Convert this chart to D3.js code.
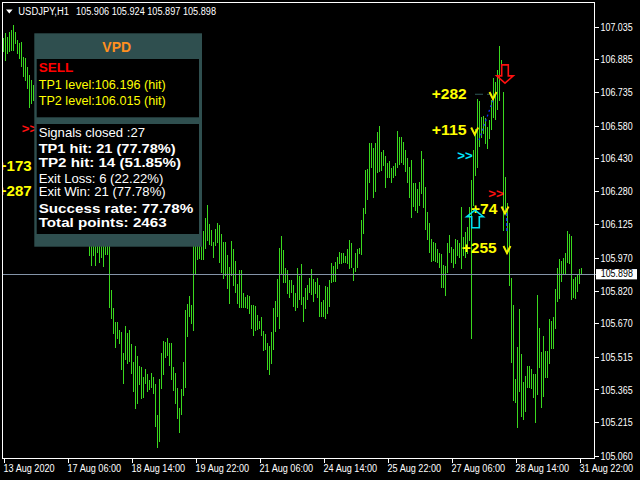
<!DOCTYPE html>
<html><head><meta charset="utf-8">
<script src="https://cdn.jsdelivr.net/npm/d3@7"></script>
<style>body{margin:0;background:#000;overflow:hidden}svg{display:block}</style>
</head><body><svg id="c" width="640" height="480"></svg>
<script>
// ---------------- DATA ----------------
const symbolTitle = "USDJPY,H1";
const headerOHLC = ["105.906", "105.924", "105.897", "105.898"];
const currentPrice = 105.898;

const highs = [
106.983,107.006,106.988,107.011,107.020,107.043,107.011,106.974,106.960,106.965,
106.896,106.891,106.850,106.813,106.790,106.767,106.744,106.675,106.642,106.629,
106.606,106.537,106.513,106.467,106.444,106.398,106.375,106.421,106.398,106.375,
106.306,106.283,106.260,106.237,106.191,106.214,106.168,106.145,106.122,106.136,
106.108,106.099,106.090,106.072,106.053,106.062,106.044,106.072,106.053,106.053,
106.062,106.072,106.062,106.053,105.823,105.740,105.676,105.676,105.639,105.630,
105.533,105.657,105.625,105.639,105.574,105.491,105.565,105.519,105.473,105.468,
105.422,105.459,105.436,105.409,105.441,105.422,105.390,105.247,105.413,105.533,
105.588,105.583,105.602,105.579,105.579,105.468,105.441,105.372,105.280,105.367,
105.491,105.731,105.758,105.795,105.754,106.053,106.062,106.062,106.053,106.062,
106.095,106.154,106.214,106.127,106.099,106.044,106.104,106.131,106.122,106.081,
106.044,106.044,105.984,105.929,106.048,106.012,105.956,105.851,105.915,105.915,
105.809,105.791,105.800,105.795,105.754,105.754,105.749,105.708,105.680,105.699,
105.634,105.620,105.579,105.565,105.630,105.740,105.772,105.874,106.016,106.072,
106.007,105.924,105.915,105.869,105.869,105.846,105.809,105.924,105.887,105.943,
105.791,105.832,105.846,105.878,105.920,105.874,105.860,105.878,105.846,105.768,
105.777,105.841,105.837,105.869,105.947,105.933,105.952,105.975,105.998,105.993,
105.993,105.979,106.012,106.053,106.039,105.924,105.993,106.012,106.016,106.145,
106.200,106.375,106.380,106.500,106.500,106.477,106.500,106.550,106.578,106.458,
106.467,106.440,106.408,106.417,106.385,106.394,106.408,106.555,106.527,106.527,
106.504,106.467,106.431,106.389,106.421,106.316,106.316,106.288,106.320,106.463,
106.426,106.297,106.182,106.131,106.058,106.044,106.039,106.012,105.993,105.989,
105.938,105.933,106.039,106.076,106.021,106.012,106.058,106.053,106.039,106.205,
106.067,106.090,106.113,106.205,106.329,106.467,106.564,106.702,106.693,106.619,
106.624,106.615,106.573,106.606,106.698,106.799,106.780,106.836,106.946,106.882,
106.734,106.343,106.223,106.131,105.878,105.754,105.413,105.560,105.735,105.528,
105.399,105.427,105.473,105.473,105.459,105.436,105.436,105.800,105.648,105.537,
105.611,105.542,105.542,105.689,105.680,105.699,105.827,105.924,105.966,105.956,
105.970,105.993,106.095,106.081,106.072,105.874,105.883,105.892,105.920,105.924
];
const lows = [
106.919,106.882,106.914,106.919,106.928,106.928,106.960,106.914,106.891,106.850,
106.804,106.790,106.753,106.665,106.684,106.698,106.615,106.560,106.569,106.513,
106.467,106.421,106.398,106.366,106.306,106.283,106.260,106.306,106.329,106.237,
106.191,106.168,106.145,106.122,106.099,106.122,106.076,106.053,106.044,106.053,
106.035,106.035,106.030,105.984,105.938,105.984,105.938,105.998,105.952,105.975,
105.933,105.989,105.989,105.745,105.694,105.625,105.560,105.602,105.579,105.459,
105.395,105.505,105.487,105.496,105.441,105.358,105.280,105.303,105.386,105.326,
105.330,105.395,105.358,105.367,105.376,105.349,105.197,105.100,105.128,105.372,
105.432,105.514,105.524,105.478,105.409,105.362,105.303,105.234,105.165,105.252,
105.339,105.376,105.611,105.703,105.671,105.639,105.901,105.966,105.970,105.966,
105.966,106.016,106.053,106.035,106.030,105.975,106.030,106.044,105.952,105.906,
105.874,105.892,105.832,105.763,105.892,105.846,105.814,105.763,105.745,105.745,
105.745,105.745,105.740,105.717,105.648,105.616,105.639,105.643,105.648,105.616,
105.547,105.551,105.459,105.432,105.487,105.551,105.630,105.703,105.648,105.901,
105.860,105.860,105.809,105.791,105.814,105.749,105.731,105.745,105.781,105.758,
105.680,105.740,105.781,105.814,105.804,105.772,105.809,105.791,105.703,105.699,
105.699,105.694,105.717,105.749,105.860,105.864,105.864,105.924,105.947,105.947,
105.952,105.952,105.947,105.924,105.929,105.869,105.910,105.929,105.993,105.989,
106.085,106.177,106.242,106.320,106.385,106.251,106.279,106.366,106.371,106.375,
106.398,106.297,106.343,106.343,106.320,106.343,106.352,106.385,106.403,106.408,
106.403,106.371,106.316,106.251,106.159,106.210,106.187,106.182,106.214,106.269,
106.205,106.104,106.058,105.998,105.956,105.961,105.956,105.952,105.929,105.837,
105.837,105.800,105.906,105.998,105.952,105.929,105.943,105.984,105.975,105.924,
105.984,105.975,105.993,106.053,105.602,106.214,106.352,106.385,106.486,106.527,
106.546,106.500,106.477,106.523,106.560,106.619,106.606,106.652,106.698,106.813,
106.099,106.182,105.993,105.846,105.491,105.316,105.307,105.192,105.358,105.243,
105.229,105.266,105.376,105.376,105.372,105.330,105.215,105.344,105.468,105.284,
105.335,105.422,105.422,105.487,105.556,105.556,105.648,105.772,105.786,105.864,
105.897,105.897,105.952,105.947,105.781,105.791,105.786,105.818,105.851,105.897
];

const priceTicks = [107.035,106.885,106.735,106.580,106.430,106.280,106.125,105.970,105.820,105.670,105.515,105.365,105.215,105.060];
const timeTickIndex = [0,32,64,96,128,160,192,224,256,288];
const timeTickLabels = ["13 Aug 2020","17 Aug 06:00","18 Aug 14:00","19 Aug 22:00","21 Aug 06:00","24 Aug 14:00","25 Aug 22:00","27 Aug 06:00","28 Aug 14:00","31 Aug 22:00"];

// signal annotations (bar index, price)
const profitLabels = ["+282", "+115", "+74", "+255", "+173", "+287"];
const profitIndex  = [231.6, 231.6, 246.9, 246.6, 14.1, 14.1];
const profitPrice  = [106.724, 106.559, 106.196, 106.015, 106.394, 106.280];
const exitMarkIndex = [244.75, 235.6, 250.75, 251.75];
const exitMarkPrice = [106.718, 106.555, 106.191, 106.009];
const chevronColors = ["#00e8ff", "#ff1010", "#ff1010"];
const chevronIndex  = [226.9, 242.4, 9.1];
const chevronPrice  = [106.441, 106.268, 106.567];
const buyArrow  = {i: 235.75, price: 106.191};
const sellArrow = {i: 250.75, price: 106.775};

// panel texts
const panelTitle = "VPD";
const signalType = "SELL";
const tpLevels = ["TP1 level:106.196 (hit)", "TP2 level:106.015 (hit)"];
const statLines = ["Signals closed :27", "TP1 hit: 21 (77.78%)", "TP2 hit: 14 (51.85%)", "Exit Loss: 6 (22.22%)", "Exit Win: 21 (77.78%)", "Success rate: 77.78%", "Total points: 2463"];
const statBold = [false, true, true, false, false, true, true];

// ---------------- DRAW ----------------
const svg = d3.select("#c");
const FONT = "'Liberation Sans', Arial, sans-serif";
svg.append("rect").attr("width",640).attr("height",480).attr("fill","#000");

const x = d3.scaleLinear().domain([0, 289]).range([3.5, 581.5]);
const y = d3.scaleLinear().domain([105.060, 107.035]).range([455.7, 26.7]);

function fitW(sel, w){ sel.attr("textLength", w).attr("lengthAdjust","spacingAndGlyphs"); }
function narrow(sel, f){ sel.each(function(){ const L=this.getComputedTextLength(); d3.select(this).attr("textLength", L*f).attr("lengthAdjust","spacingAndGlyphs"); }); }

// bars
svg.append("g").attr("shape-rendering","crispEdges")
  .selectAll("line").data(highs).join("line")
  .attr("x1",(d,i)=>x(i)).attr("x2",(d,i)=>x(i))
  .attr("y1",d=>y(d)).attr("y2",(d,i)=>y(lows[i])+0.6)
  .attr("stroke","#3ad81e").attr("stroke-width",1);

// bid line
const by = Math.round(y(currentPrice))+0.5;
svg.append("line").attr("x1",2).attr("x2",596).attr("y1",by).attr("y2",by)
  .attr("stroke","#8494a8").attr("stroke-width",1).attr("shape-rendering","crispEdges");

// annotations clipped to chart area
svg.append("clipPath").attr("id","plotclip").append("rect").attr("x",3).attr("y",3).attr("width",591).attr("height",455);
const ann = svg.append("g").attr("clip-path","url(#plotclip)");

// dashed line near +282
ann.append("line").attr("x1",x(235.75)).attr("x2",x(244.25)).attr("y1",y(106.724)).attr("y2",y(106.724))
  .attr("stroke","#2f5a5a").attr("stroke-width",1).attr("stroke-dasharray","8,4");
// blue dotted trend segments
ann.append("line").attr("x1",x(237.75)).attr("y1",y(106.513)).attr("x2",x(244.75)).attr("y2",y(106.698))
  .attr("stroke","#1030ff").attr("stroke-width",1.3).attr("stroke-dasharray","2,3");
ann.append("line").attr("x1",x(251.5)).attr("y1",y(106.200)).attr("x2",x(251.65)).attr("y2",y(106.090))
  .attr("stroke","#1030ff").attr("stroke-width",1.3).attr("stroke-dasharray","3,2");

// profit labels
const pw = [35, 35, 26.3, 35, 34, 34];
profitLabels.forEach((t,k)=>{
  ann.append("text").attr("x",x(profitIndex[k])).attr("y",y(profitPrice[k])+5)
    .attr("text-anchor","end").attr("font-family",FONT).attr("font-weight","bold")
    .attr("font-size",14).attr("fill","#ffff00").text(t).call(fitW, pw[k]);
});
// exit marks (small v)
exitMarkIndex.forEach((ix,k)=>{
  const cx = x(ix), cy = y(exitMarkPrice[k]);
  ann.append("path").attr("d",`M${cx-3.5},${cy-3.5}L${cx},${cy+3.5}L${cx+3.5},${cy-3.5}`)
    .attr("fill","none").attr("stroke","#f0f000").attr("stroke-width",2);
});
// chevrons >>
chevronIndex.forEach((ix,k)=>{
  ann.append("text").attr("x",x(ix)).attr("y",y(chevronPrice[k])+4.5)
    .attr("font-family",FONT).attr("font-weight","bold").attr("font-size",13)
    .attr("fill",chevronColors[k]).text(">>").call(fitW, 15.5);
});
// buy arrow (cyan outline)
{
  const ax = x(buyArrow.i), ay = y(buyArrow.price);
  ann.append("path").attr("d",`M${ax},${ay}L${ax+8.3},${ay+6.7}L${ax+4.3},${ay+6.7}L${ax+4.3},${ay+17.7}L${ax-3.3},${ay+17.7}L${ax-3.3},${ay+6.7}L${ax-8.3},${ay+6.7}Z`)
    .attr("fill","none").attr("stroke","#00e0f0").attr("stroke-width",1.6);
}
// sell arrow (red outline)
{
  const ax = x(sellArrow.i), ay = y(sellArrow.price);
  ann.append("path").attr("d",`M${ax},${ay}L${ax+8.3},${ay-7.3}L${ax+3.3},${ay-7.3}L${ax+3.3},${ay-18.3}L${ax-3.3},${ay-18.3}L${ax-3.3},${ay-7.3}L${ax-8.3},${ay-7.3}Z`)
    .attr("fill","none").attr("stroke","#ff1010").attr("stroke-width",1.6);
}

// ---------------- PANEL ----------------
const P = svg.append("g");
P.append("rect").attr("x",34.3).attr("y",33.3).attr("width",167.7).attr("height",213.4).attr("fill","#2f4f4f");
P.append("rect").attr("x",36.7).attr("y",59).attr("width",162.3).attr("height",58.3).attr("fill","#000");
P.append("rect").attr("x",36.7).attr("y",124).attr("width",162.3).attr("height",110).attr("fill","#000");
P.append("text").attr("x",116.7).attr("y",51.7).attr("text-anchor","middle").attr("font-family",FONT)
  .attr("font-weight","bold").attr("font-size",14).attr("fill","#ff9020").text(panelTitle).call(fitW,28.7);
P.append("text").attr("x",38.7).attr("y",71.7).attr("font-family",FONT).attr("font-weight","bold")
  .attr("font-size",13).attr("fill","#ff0000").text(signalType).call(fitW,34.6);
const tpBase = [88.7, 105.3];
tpLevels.forEach((t,k)=>{
  P.append("text").attr("x",38.7).attr("y",tpBase[k]).attr("font-family",FONT).attr("font-size",13)
    .attr("fill","#ffff00").text(t).call(fitW,127);
});
const statBase = [136.7, 152.7, 167.3, 182.7, 196, 212.7, 227.3];
const statW = [106.3, 137, 142.3, 124.6, 127, 154.6, 128];
statLines.forEach((t,k)=>{
  P.append("text").attr("x",38.7).attr("y",statBase[k]).attr("font-family",FONT)
    .attr("font-weight",statBold[k]?"bold":"normal").attr("font-size",13)
    .attr("fill","#ffffff").text(t).call(fitW,statW[k]);
});

// ---------------- FRAME & AXES ----------------
svg.append("rect").attr("x",2.5).attr("y",2.5).attr("width",592).attr("height",456)
  .attr("fill","none").attr("stroke","#ffffff").attr("stroke-width",1).attr("shape-rendering","crispEdges");

const yAxis = d3.axisRight(y).tickValues(priceTicks).tickFormat(d3.format(".3f")).tickSize(4).tickPadding(2);
const gy = svg.append("g").attr("transform","translate(594.5,0)").call(yAxis);
gy.select(".domain").remove();
gy.selectAll(".tick line").attr("stroke","#fff").attr("shape-rendering","crispEdges");
gy.selectAll(".tick text").attr("fill","#fff").attr("font-family",FONT).attr("font-size",10).attr("dy","0.36em").call(narrow,0.89);

const xAxis = d3.axisBottom(x).tickValues(timeTickIndex).tickFormat((d,k)=>timeTickLabels[k]).tickSize(4);
const gx = svg.append("g").attr("transform","translate(0,458.5)").call(xAxis);
gx.select(".domain").remove();
gx.selectAll(".tick line").attr("stroke","#fff").attr("shape-rendering","crispEdges");
gx.selectAll(".tick text").attr("fill","#fff").attr("font-family",FONT).attr("font-size",10)
  .attr("text-anchor","start").attr("x",-0.5).attr("y",13).attr("dy",0).call(narrow,0.91);

// current price box
const cy = y(currentPrice);
svg.append("rect").attr("x",596).attr("y",cy-4.6).attr("width",41).attr("height",10.3).attr("fill","#fff");
svg.append("text").attr("x",600.7).attr("y",cy+3.6).attr("font-family",FONT).attr("font-size",10)
  .attr("fill","#000").text(d3.format(".3f")(currentPrice)).call(narrow,0.89);

// header
svg.append("path").attr("d","M6,9.5L12.6,9.5L9.3,13.5Z").attr("fill","#fff");
svg.append("text").attr("x",18.3).attr("y",14.7).attr("font-family",FONT).attr("font-size",10)
  .attr("fill","#fff").text(symbolTitle).call(fitW,50.7);
svg.append("text").attr("x",76).attr("y",14.7).attr("font-family",FONT).attr("font-size",10)
  .attr("fill","#fff").text(headerOHLC.join(" ")).call(fitW,140);
</script>
</body></html>
